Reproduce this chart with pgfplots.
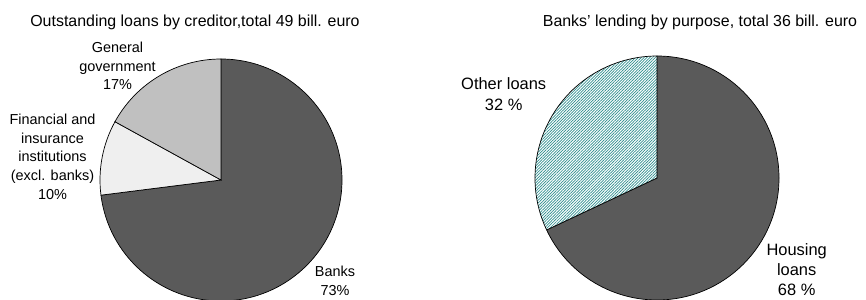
\documentclass[border=0pt]{standalone}
\usepackage{pgfplots}
\pgfplotsset{compat=1.18}
\usepackage{pgfplotstable}
\usetikzlibrary{patterns.meta}
\usepackage{fontspec}
\setmainfont{Liberation Sans}
\definecolor{sliceDark}{HTML}{5A5A5A}
\definecolor{sliceMid}{HTML}{C0C0C0}
\definecolor{sliceLight}{HTML}{EFEFEF}
\definecolor{hatchTeal}{HTML}{2E8E8E}

% shares in percent
\pgfplotstableread{
share
73
10
17
}\creditortable
\pgfplotstableread{
share
68
32
}\purposetable

\pgfplotstablegetelem{0}{share}\of\creditortable \let\sBanks\pgfplotsretval
\pgfplotstablegetelem{1}{share}\of\creditortable \let\sFin\pgfplotsretval
\pgfplotstablegetelem{2}{share}\of\creditortable \let\sGov\pgfplotsretval
\pgfplotstablegetelem{0}{share}\of\purposetable \let\sHouse\pgfplotsretval
\pgfplotstablegetelem{1}{share}\of\purposetable \let\sOther\pgfplotsretval

\pgfmathsetmacro\aA{90-3.6*\sBanks}
\pgfmathsetmacro\aB{\aA-3.6*\sFin}
\pgfmathsetmacro\aC{\aB-3.6*\sGov}
\pgfmathsetmacro\bA{90-3.6*\sHouse}
\pgfmathsetmacro\bB{\bA-3.6*\sOther}

\begin{document}
\begin{tikzpicture}
\path[use as bounding box] (0,0) rectangle (866bp,300bp);
\begin{axis}[at={(0,0)}, anchor=south west, scale only axis,
  width=866bp, height=300bp, xmin=0, xmax=866, ymin=0, ymax=300,
  hide axis, clip=false]
% left pie
\filldraw[fill=sliceDark, draw=black, line width=0.7bp] (axis cs:221,120) -- ++(90:121bp) arc[start angle=90, end angle=\aA, radius=121bp] -- cycle;
\filldraw[fill=sliceLight, draw=black, line width=0.7bp] (axis cs:221,120) -- ++(\aA:121bp) arc[start angle=\aA, end angle=\aB, radius=121bp] -- cycle;
\filldraw[fill=sliceMid, draw=black, line width=0.7bp] (axis cs:221,120) -- ++(\aB:121bp) arc[start angle=\aB, end angle=\aC, radius=121bp] -- cycle;
% right pie
\filldraw[fill=sliceDark, draw=black, line width=0.7bp] (axis cs:657,122) -- ++(90:122bp) arc[start angle=90, end angle=\bA, radius=122bp] -- cycle;
\fill[white] (axis cs:657,122) -- ++(\bA:122bp) arc[start angle=\bA, end angle=\bB, radius=122bp] -- cycle;
\fill[pattern={Lines[angle=45, distance=2bp, line width=0.7bp]}, pattern color=hatchTeal] (axis cs:657,122) -- ++(\bA:122bp) arc[start angle=\bA, end angle=\bB, radius=122bp] -- cycle;
\draw[black, line width=0.7bp] (axis cs:657,122) -- ++(\bA:122bp) arc[start angle=\bA, end angle=\bB, radius=122bp] -- cycle;
% titles
\node[anchor=base, font=\fontsize{16}{19}\selectfont, inner sep=0pt] at (axis cs:195,274) {Outstanding loans by creditor,total 49 bill. euro};
\node[anchor=base, font=\fontsize{16}{19}\selectfont, inner sep=0pt] at (axis cs:700,273.5) {Banks’ lending by purpose, total 36 bill. euro};
% left labels (anchor=base is the baseline of the last line)
\node[anchor=base, align=center, font=\fontsize{14.5}{18.8}\selectfont, inner sep=0pt] at (axis cs:117.5,210.2) {General\\government\\17\%};
\node[anchor=base, align=center, font=\fontsize{14.5}{18.8}\selectfont, inner sep=0pt] at (axis cs:52.5,100.6) {Financial and\\insurance\\institutions\\(excl. banks)\\10\%};
\node[anchor=base, align=center, font=\fontsize{14.5}{18.8}\selectfont, inner sep=0pt] at (axis cs:335,4.3) {Banks\\73\%};
% right labels
\node[anchor=base, align=center, font=\fontsize{16.5}{20.5}\selectfont, inner sep=0pt] at (axis cs:503.7,190) {Other loans\\32 \%};
\node[anchor=base, align=center, font=\fontsize{16.5}{20}\selectfont, inner sep=0pt] at (axis cs:796.7,5) {Housing\\loans\\68 \%};
\end{axis}
\end{tikzpicture}
\end{document}
